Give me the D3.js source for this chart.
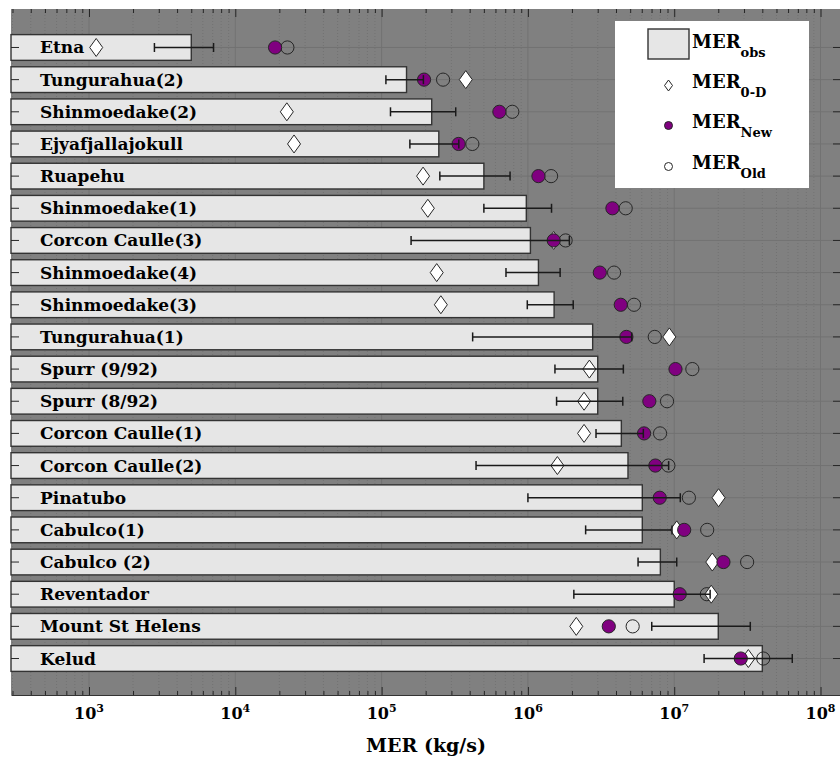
<!DOCTYPE html>
<html>
<head>
<meta charset="utf-8">
<script src="https://cdn.jsdelivr.net/npm/d3@7"></script>
<style>
  body { margin: 0; background: #fff; }
  text { font-family: "DejaVu Serif", serif; font-weight: bold; fill: #000; }
</style>
</head>
<body>
<svg id="chart" width="840" height="759"></svg>
<script>
// eruptions, top to bottom
const names = ['Etna', 'Tungurahua(2)', 'Shinmoedake(2)', 'Ejyafjallajokull', 'Ruapehu',
  'Shinmoedake(1)', 'Corcon Caulle(3)', 'Shinmoedake(4)', 'Shinmoedake(3)', 'Tungurahua(1)',
  'Spurr (9/92)', 'Spurr (8/92)', 'Corcon Caulle(1)', 'Corcon Caulle(2)', 'Pinatubo',
  'Cabulco(1)', 'Cabulco (2)', 'Reventador', 'Mount St Helens', 'Kelud'];

// observed MER (bars) with its uncertainty range
const merObs = [5.0e3, 1.48e5, 2.2e5, 2.46e5, 5.0e5, 9.75e5, 1.04e6, 1.18e6, 1.51e6, 2.77e6,
  3.0e6, 3.0e6, 4.35e6, 4.83e6, 6.05e6, 6.05e6, 8.04e6, 1.0e7, 2.0e7, 4.0e7];
const errLow = [2.8e3, 1.07e5, 1.15e5, 1.56e5, 2.5e5, 5.0e5, 1.59e5, 7.08e5, 9.9e5, 4.19e5,
  1.53e6, 1.57e6, 2.92e6, 4.42e5, 1.0e6, 2.48e6, 5.66e6, 2.06e6, 7.02e6, 1.6e7];
const errHigh = [7.1e3, 1.93e5, 3.21e5, 3.37e5, 7.55e5, 1.45e6, 1.92e6, 1.66e6, 2.04e6, 5.12e6,
  4.49e6, 4.45e6, 6.15e6, 9.16e6, 1.1e7, 9.66e6, 1.04e7, 1.76e7, 3.31e7, 6.41e7];

// model estimates
const mer0D = [1.12e3, 3.76e5, 2.25e4, 2.52e4, 1.92e5, 2.07e5, 1.5e6, 2.38e5, 2.54e5, 9.26e6,
  2.63e6, 2.42e6, 2.42e6, 1.59e6, 2.01e7, 1.04e7, 1.82e7, 1.79e7, 2.14e6, 3.21e7];
const merNew = [1.87e4, 1.95e5, 6.38e5, 3.36e5, 1.18e6, 3.78e6, 1.5e6, 3.1e6, 4.31e6, 4.71e6,
  1.02e7, 6.76e6, 6.22e6, 7.43e6, 7.96e6, 1.17e7, 2.17e7, 1.09e7, 3.57e6, 2.85e7];
const merOld = [2.27e4, 2.63e5, 7.82e5, 4.17e5, 1.44e6, 4.66e6, 1.81e6, 3.88e6, 5.31e6, 7.36e6,
  1.33e7, 8.93e6, 8.0e6, 9.12e6, 1.26e7, 1.68e7, 3.15e7, 1.67e7, 5.2e6, 4.06e7];

const majorTicks = [1e3, 1e4, 1e5, 1e6, 1e7, 1e8];
const tickExponents = ['3', '4', '5', '6', '7', '8'];
const legendSubs = ['obs', '0-D', 'New', 'Old'];

const rows = names.map((n, i) => ({
  name: n, obs: merObs[i], lo: errLow[i], hi: errHigh[i],
  d0: mer0D[i], nw: merNew[i], old: merOld[i]
}));

const plot = {left: 11, top: 9, right: 841, bottom: 695};
const svg = d3.select('#chart');

const x = d3.scaleLog()
  .domain([293, 1.38e8])
  .range([plot.left, plot.right]);

const y = d3.scaleBand()
  .domain(names)
  .range([31.4, 674.6])
  .paddingInner(0.2)
  .paddingOuter(0.1);
const yc = n => y(n) + y.bandwidth() / 2;

// minor tick values 2..9 x 10^k inside the domain
const minorTicks = [];
for (let k = 2; k <= 8; k++) {
  for (let m = 2; m <= 9; m++) {
    const v = m * Math.pow(10, k);
    if (v > x.domain()[0] && v < x.domain()[1]) minorTicks.push(v);
  }
}

// background
svg.append('rect')
  .attr('x', plot.left).attr('y', plot.top)
  .attr('width', plot.right - plot.left).attr('height', plot.bottom - plot.top)
  .attr('fill', '#808080');

// grid
const grid = svg.append('g');
grid.selectAll('.minor')
  .data(minorTicks)
  .enter().append('line')
    .attr('x1', d => x(d)).attr('x2', d => x(d))
    .attr('y1', plot.top).attr('y2', plot.bottom)
    .attr('stroke', '#6e6e6e').attr('stroke-width', 0.8)
    .attr('stroke-dasharray', '1,2');
grid.selectAll('.major')
  .data(majorTicks)
  .enter().append('line')
    .attr('x1', d => x(d)).attr('x2', d => x(d))
    .attr('y1', plot.top).attr('y2', plot.bottom)
    .attr('stroke', '#727272').attr('stroke-width', 1);
grid.selectAll('.hgrid')
  .data(names)
  .enter().append('line')
    .attr('x1', plot.left).attr('x2', plot.right)
    .attr('y1', d => yc(d)).attr('y2', d => yc(d))
    .attr('stroke', '#727272').attr('stroke-width', 1);

// bars
svg.selectAll('.bar')
  .data(rows)
  .enter().append('rect')
    .attr('class', 'bar')
    .attr('x', plot.left)
    .attr('y', d => y(d.name))
    .attr('width', d => x(d.obs) - plot.left)
    .attr('height', y.bandwidth())
    .attr('fill', '#e6e6e6')
    .attr('stroke', '#333')
    .attr('stroke-width', 1.4);

// bar labels
svg.selectAll('.label')
  .data(rows)
  .enter().append('text')
    .attr('x', 40)
    .attr('y', d => yc(d.name) + 6)
    .style('font-size', '17px')
    .text(d => d.name);

// markers: old, 0-D, new
const diamond = (w, h) => `M0,${-h}L${w},0L0,${h}L${-w},0Z`;

svg.selectAll('.old')
  .data(rows)
  .enter().append('circle')
    .attr('cx', d => x(d.old)).attr('cy', d => yc(d.name))
    .attr('r', 6.6)
    .attr('fill', 'none').attr('stroke', '#262626').attr('stroke-width', 1);

svg.selectAll('.zeroD')
  .data(rows)
  .enter().append('path')
    .attr('d', diamond(6.5, 9))
    .attr('transform', d => `translate(${x(d.d0)},${yc(d.name)})`)
    .attr('fill', '#fff').attr('stroke', '#262626').attr('stroke-width', 1);

svg.selectAll('.new')
  .data(rows)
  .enter().append('circle')
    .attr('cx', d => x(d.nw)).attr('cy', d => yc(d.name))
    .attr('r', 6.6)
    .attr('fill', '#800080').attr('stroke', '#262626').attr('stroke-width', 1);

// error bars
const eb = svg.selectAll('.err')
  .data(rows)
  .enter().append('g')
    .attr('stroke', '#1a1a1a').attr('stroke-width', 1.5);
eb.append('line')
  .attr('x1', d => x(d.lo)).attr('x2', d => x(d.hi))
  .attr('y1', d => yc(d.name)).attr('y2', d => yc(d.name));
eb.append('line')
  .attr('x1', d => x(d.lo)).attr('x2', d => x(d.lo))
  .attr('y1', d => yc(d.name) - 4.5).attr('y2', d => yc(d.name) + 4.5);
eb.append('line')
  .attr('x1', d => x(d.hi)).attr('x2', d => x(d.hi))
  .attr('y1', d => yc(d.name) - 4.5).attr('y2', d => yc(d.name) + 4.5);

// axes (ticks point inward)
function styleAxis(g) {
  g.selectAll('line').attr('stroke', '#262626');
  g.selectAll('text').remove();
}
svg.append('g')
  .attr('transform', `translate(0,${plot.bottom})`)
  .call(d3.axisBottom(x).tickValues(minorTicks).tickSize(-4).tickSizeOuter(0))
  .call(g => g.select('.domain').remove())
  .call(styleAxis);
const xAxis = svg.append('g')
  .attr('transform', `translate(0,${plot.bottom})`)
  .call(d3.axisBottom(x).tickValues(majorTicks).tickSize(-8).tickSizeOuter(0))
  .call(styleAxis);
xAxis.select('.domain').attr('stroke', '#333').attr('stroke-width', 1.2);

svg.append('g')
  .attr('transform', `translate(0,${plot.top})`)
  .call(d3.axisTop(x).tickValues(minorTicks).tickSize(-4).tickSizeOuter(0))
  .call(g => g.select('.domain').remove())
  .call(styleAxis);
svg.append('g')
  .attr('transform', `translate(0,${plot.top})`)
  .call(d3.axisTop(x).tickValues(majorTicks).tickSize(-8).tickSizeOuter(0))
  .call(g => g.select('.domain').remove())
  .call(styleAxis);

svg.append('g')
  .attr('transform', `translate(${plot.left},0)`)
  .call(d3.axisLeft(y).tickSize(-8).tickSizeOuter(0))
  .call(g => g.select('.domain').remove())
  .call(styleAxis);
svg.append('g')
  .attr('transform', `translate(${plot.right},0)`)
  .call(d3.axisRight(y).tickSize(-8).tickSizeOuter(0))
  .call(g => g.select('.domain').remove())
  .call(styleAxis);

// tick labels 10^k
const tl = svg.selectAll('.ticklabel')
  .data(majorTicks)
  .enter().append('text')
    .attr('x', d => x(d))
    .attr('y', 719)
    .attr('text-anchor', 'middle')
    .style('font-size', '16px');
tl.append('tspan').text('10');
tl.append('tspan')
  .attr('dy', -7)
  .style('font-size', '11px')
  .text((d, i) => tickExponents[i]);

svg.append('text')
  .attr('x', (plot.left + plot.right) / 2)
  .attr('y', 752)
  .attr('text-anchor', 'middle')
  .style('font-size', '19px')
  .text('MER (kg/s)');

// legend
const legend = svg.append('g');
legend.append('rect')
  .attr('x', 615).attr('y', 21).attr('width', 194).attr('height', 167)
  .attr('fill', '#fff');
legend.append('rect')
  .attr('x', 648).attr('y', 29).attr('width', 41).attr('height', 30)
  .attr('fill', '#e6e6e6').attr('stroke', '#333').attr('stroke-width', 1.4);
legend.append('path')
  .attr('d', diamond(4, 5.5))
  .attr('transform', 'translate(668.5,85.5)')
  .attr('fill', '#fff').attr('stroke', '#262626').attr('stroke-width', 1);
legend.append('circle')
  .attr('cx', 668.5).attr('cy', 125.5).attr('r', 4)
  .attr('fill', '#800080').attr('stroke', '#262626').attr('stroke-width', 1);
legend.append('circle')
  .attr('cx', 668.5).attr('cy', 166.5).attr('r', 4)
  .attr('fill', '#fff').attr('stroke', '#262626').attr('stroke-width', 1);

const legendBase = [47.5, 87.5, 127.5, 169];
const lt = legend.selectAll('.ltext')
  .data(legendSubs)
  .enter().append('text')
    .attr('x', 692)
    .attr('y', (d, i) => legendBase[i])
    .style('font-size', '18px');
lt.append('tspan').text('MER');
lt.append('tspan')
  .attr('dy', 9)
  .style('font-size', '13px')
  .text(d => d);
</script>
</body>
</html>
